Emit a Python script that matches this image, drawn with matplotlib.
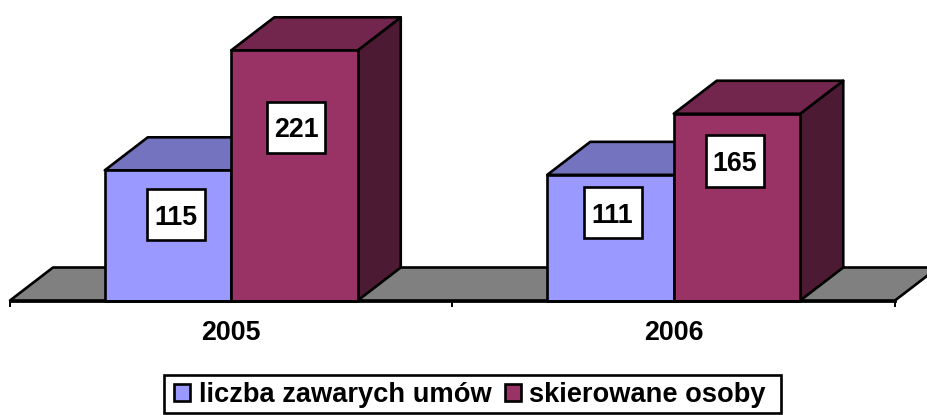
import numpy as np
import matplotlib
matplotlib.use("Agg")
import matplotlib.pyplot as plt
from matplotlib.patches import Polygon, Rectangle

years = ["2005", "2006"]
series_names = ["liczba zawarych umów", "skierowane osoby"]
umowy = [115, 111]
osoby = [221, 165]

# layout, in pixels of the 928x415 picture
W, H = 928, 415
ax_left, ax_right, ax_base = 10, 895, 300.5
px_per_unit = 1.132
depth_px_x, depth_px_y = 43, 33
bar_px = 126.5

front_colors = ["#9999FF", "#993366"]
top_colors = ["#7373BF", "#73264D"]
side_colors = ["#4D4D80", "#4D1A33"]
floor_color = "#808080"

# label boxes were placed by hand in the original (px)
label_dx = [[8, 2], [2, -2]]
label_y_px = [[214.5, 127], [212.5, 161]]

plt.rcParams["font.family"] = ["Liberation Sans", "DejaVu Sans"]
plt.rcParams["font.weight"] = "bold"

fig = plt.figure(figsize=(W / 100, H / 100), dpi=100)
ax = fig.add_axes([ax_left / W, 1 - ax_base / H, (ax_right - ax_left) / W, ax_base / H])
ax.set_xlim(0, 2)
ax.set_ylim(0, ax_base / px_per_unit)

x_per_px = 2 / (ax_right - ax_left)
dx = depth_px_x * x_per_px
dy = depth_px_y / px_per_unit
bar_w = bar_px * x_per_px
lw = 1.9
font_size = 19.3
legend_font_size = 19.6


def poly(pts, color, z):
    ax.add_patch(Polygon(pts, closed=True, facecolor=color, edgecolor="black",
                         linewidth=lw, joinstyle="round", clip_on=False, zorder=z))


# floor
poly([(0, 0), (2, 0), (2 + dx, dy), (dx, dy)], floor_color, 1)

# bars, left one first so the next one covers its side
z = 2
for i in range(len(years)):
    centre = i + 0.5
    for j, vals in enumerate([umowy, osoby]):
        x0 = centre - bar_w + j * bar_w
        x1 = x0 + bar_w
        v = vals[i]
        poly([(x1, 0), (x1 + dx, dy), (x1 + dx, v + dy), (x1, v)], side_colors[j], z)
        poly([(x0, v), (x1, v), (x1 + dx, v + dy), (x0 + dx, v + dy)], top_colors[j], z)
        poly([(x0, 0), (x1, 0), (x1, v), (x0, v)], front_colors[j], z + 1)
        z += 2

# value labels in white boxes
box_w = 58 * x_per_px
box_h = 51 / px_per_unit
for i in range(len(years)):
    for j, vals in enumerate([umowy, osoby]):
        cx = i + 0.5 - bar_w / 2 + j * bar_w + label_dx[i][j] * x_per_px
        cy = (ax_base - label_y_px[i][j]) / px_per_unit
        ax.add_patch(Rectangle((cx - box_w / 2, cy - box_h / 2), box_w, box_h, facecolor="white",
                               edgecolor="black", linewidth=lw, zorder=20))
        ax.text(cx, cy, str(vals[i]), ha="center", va="center_baseline", fontsize=font_size,
                fontweight="bold", color="black", zorder=21)

# axis
for s in ["top", "left", "right"]:
    ax.spines[s].set_visible(False)
ax.spines["bottom"].set_linewidth(2)
ax.spines["bottom"].set_zorder(15)
ax.set_yticks([])
ax.set_xticks([0, 1, 2])
ax.set_xticklabels([])
ax.tick_params(axis="x", which="major", length=4, width=1.4, color="black")
ax.set_xticks([0.5, 1.5], minor=True)
ax.set_xticklabels(years, minor=True, fontsize=font_size, fontweight="bold")
ax.tick_params(axis="x", which="minor", length=0, pad=14)
ax.patch.set_visible(False)

# legend, frame drawn apart because it is wider than the legend padding allows
fig.add_artist(Rectangle((164 / W, 1 - 413 / H), 617 / W, 38 / H, transform=fig.transFigure,
                         facecolor="white", edgecolor="black", linewidth=lw))
handles = [Rectangle((0, 0), 1, 1, facecolor=c, edgecolor="black", linewidth=lw) for c in front_colors]
leg = fig.legend(handles, series_names, loc="center", bbox_to_anchor=(470 / W, 1 - 395 / H),
                 ncol=2, fontsize=legend_font_size, frameon=False, handlelength=0.6, handleheight=0.6,
                 handletextpad=0.3, columnspacing=0.5, borderpad=0.26, borderaxespad=0)

fig.savefig("out.png", dpi=100)
